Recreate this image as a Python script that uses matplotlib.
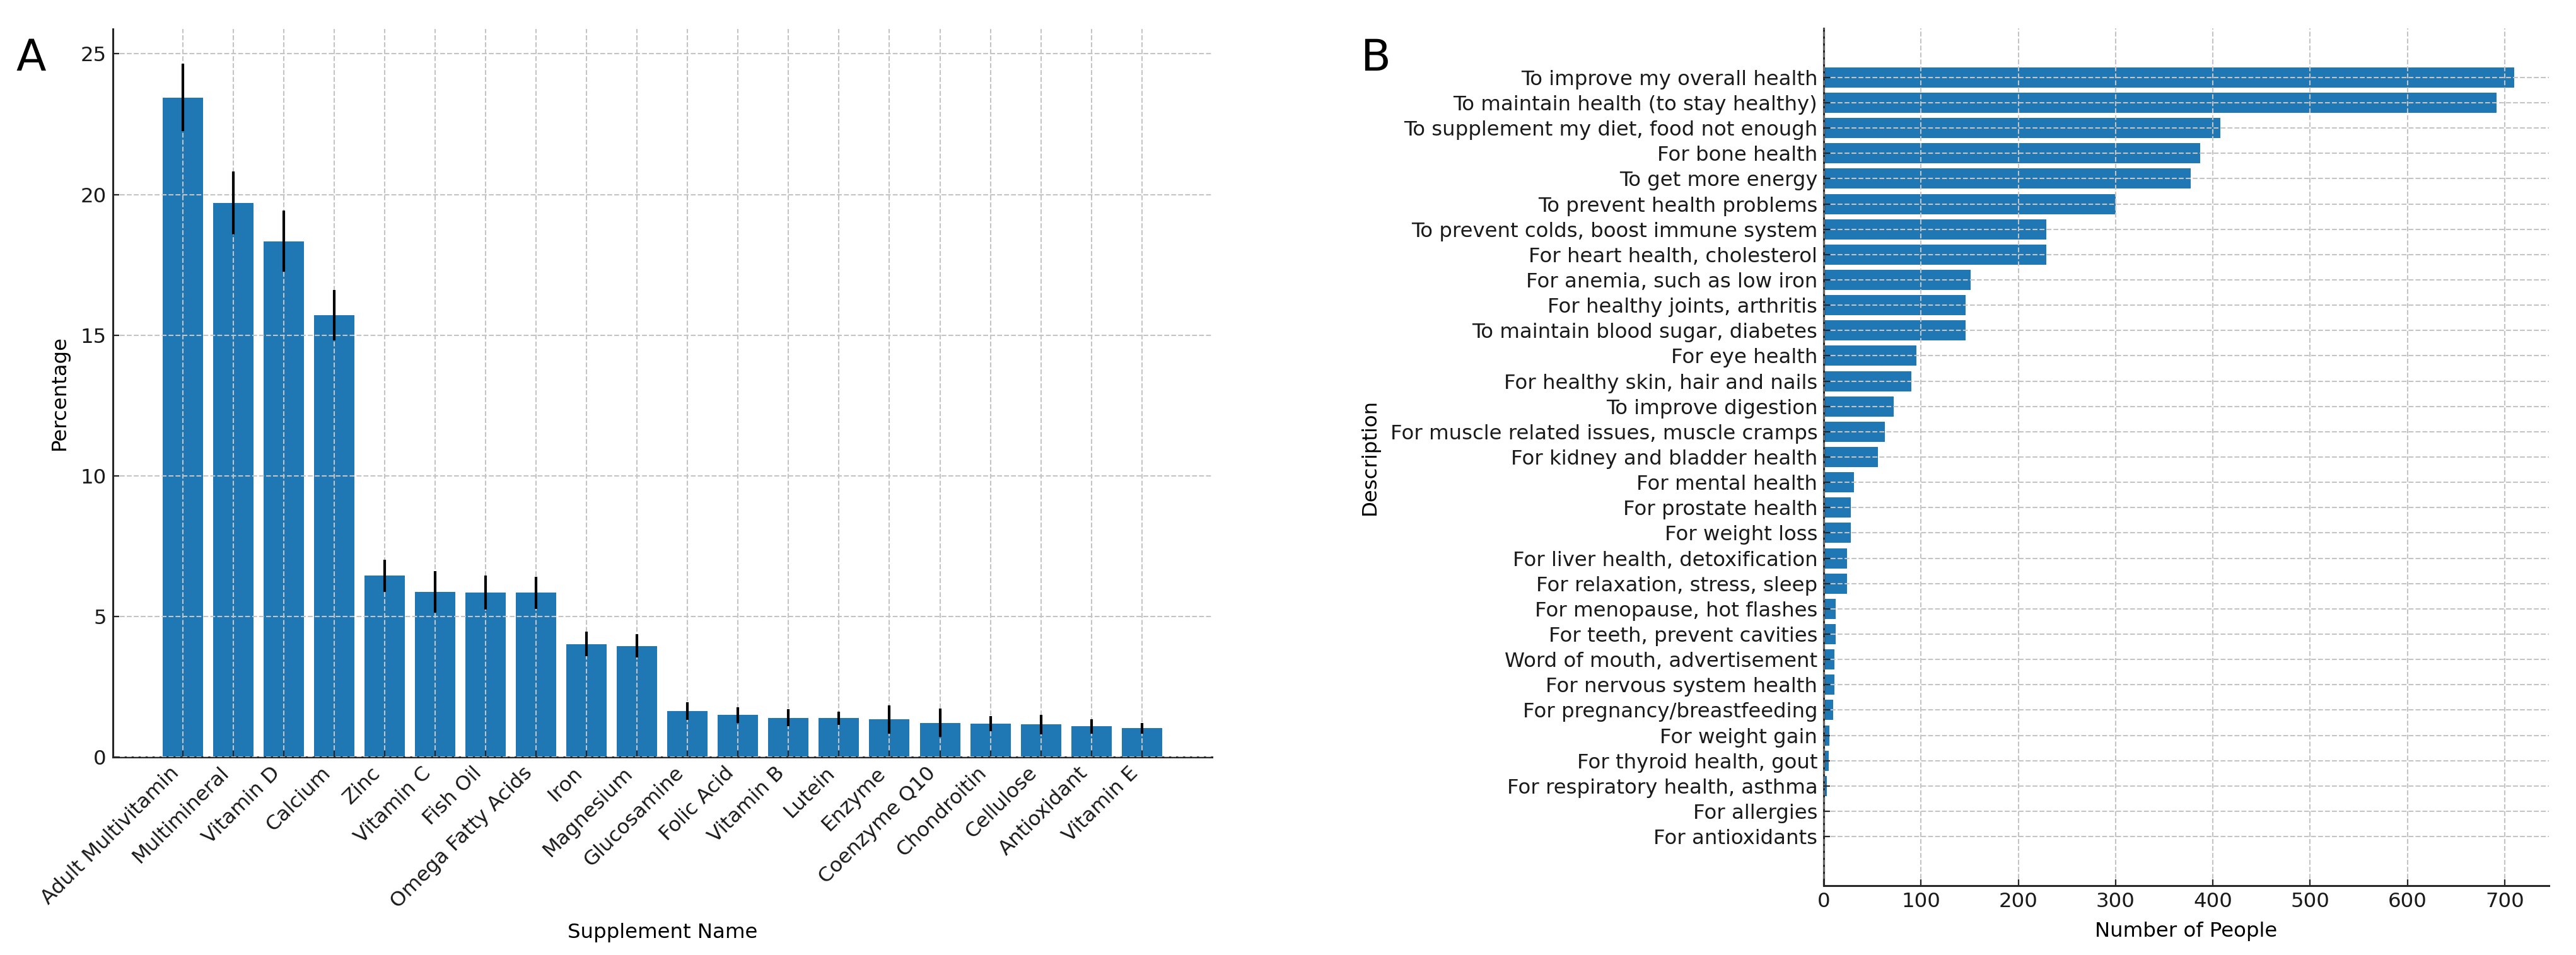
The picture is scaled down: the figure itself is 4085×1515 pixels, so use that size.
import numpy as np
import matplotlib
matplotlib.use("Agg")
import matplotlib.pyplot as plt

# Panel A: supplement use (percentage with error)
supplements = ["Adult Multivitamin", "Multimineral", "Vitamin D", "Calcium", "Zinc",
               "Vitamin C", "Fish Oil", "Omega Fatty Acids", "Iron", "Magnesium",
               "Glucosamine", "Folic Acid", "Vitamin B", "Lutein", "Enzyme",
               "Coenzyme Q10", "Chondroitin", "Cellulose", "Antioxidant", "Vitamin E"]
percentages = [23.45, 19.7, 18.34, 15.71, 6.45, 5.88, 5.85, 5.84, 4.02, 3.95,
               1.63, 1.5, 1.4, 1.38, 1.34, 1.22, 1.18, 1.16, 1.09, 1.02]
errors = [1.2, 1.12, 1.08, 0.9, 0.57, 0.74, 0.6, 0.57, 0.44, 0.41,
          0.31, 0.28, 0.3, 0.23, 0.5, 0.5, 0.27, 0.35, 0.25, 0.19]

# Panel B: reasons for taking supplements
reasons = ["To improve my overall health", "To maintain health (to stay healthy)",
           "To supplement my diet, food not enough", "For bone health",
           "To get more energy", "To prevent health problems",
           "To prevent colds, boost immune system", "For heart health, cholesterol",
           "For anemia, such as low iron", "For healthy joints, arthritis",
           "To maintain blood sugar, diabetes", "For eye health",
           "For healthy skin, hair and nails", "To improve digestion",
           "For muscle related issues, muscle cramps", "For kidney and bladder health",
           "For mental health", "For prostate health", "For weight loss",
           "For liver health, detoxification", "For relaxation, stress, sleep",
           "For menopause, hot flashes", "For teeth, prevent cavities",
           "Word of mouth, advertisement", "For nervous system health",
           "For pregnancy/breastfeeding", "For weight gain", "For thyroid health, gout",
           "For respiratory health, asthma", "For allergies", "For antioxidants"]
people = [710, 692, 408, 387, 377, 300, 229, 229, 151, 146, 146, 95, 90, 72, 63, 56,
          31, 28, 28, 24, 24, 12, 12, 11, 11, 10, 6, 5, 3, 1, 1]

W, H = 4085, 1515
fig = plt.figure(figsize=(W / 100, H / 100), dpi=100)

FS = 23.3
dark = "#262626"


def style_axes(ax):
    for s in ["top", "right"]:
        ax.spines[s].set_visible(False)
    for s in ["left", "bottom"]:
        ax.spines[s].set_color(dark)
        ax.spines[s].set_linewidth(2.2)
    ax.tick_params(direction="in", length=7, width=1.6, colors=dark,
                   labelcolor="#1a1a1a", labelsize=FS, pad=7)
    ax.grid(True, linestyle="--", color="#c4c4c4", linewidth=1.5)
    ax.set_axisbelow(False)


def rect(l, t, r, b):
    return [l / W, 1 - b / H, (r - l) / W, (b - t) / H]


# ---- A ----
axA = fig.add_axes(rect(178.5, 46, 1922, 1201))
x = np.arange(len(supplements))
axA.bar(x, percentages, width=0.8, color="#1f77b4", yerr=errors,
        error_kw=dict(ecolor="black", elinewidth=3, capsize=0, zorder=4))
axA.set_xticks(x)
axA.set_xticklabels(supplements, rotation=45, ha="right")
axA.set_ylabel("Percentage", fontsize=FS, labelpad=13)
axA.set_xlabel("Supplement Name", fontsize=FS, labelpad=12)
style_axes(axA)
fig.text(25 / W, 1 - 112 / H, "A", fontsize=50, ha="left", va="baseline")

# ---- B ----
axB = fig.add_axes(rect(2892, 45, 4042, 1405))
y = np.arange(len(reasons))
axB.barh(y, people, height=0.8, color="#1f77b4")
axB.set_yticks(y)
axB.set_yticklabels(reasons)
axB.invert_yaxis()
axB.set_xlabel("Number of People", fontsize=FS, labelpad=12)
axB.set_ylabel("Description", fontsize=FS, labelpad=12)
style_axes(axB)
fig.text(2157 / W, 1 - 112 / H, "B", fontsize=50, ha="left", va="baseline")

fig.savefig("out.png", dpi=100)
